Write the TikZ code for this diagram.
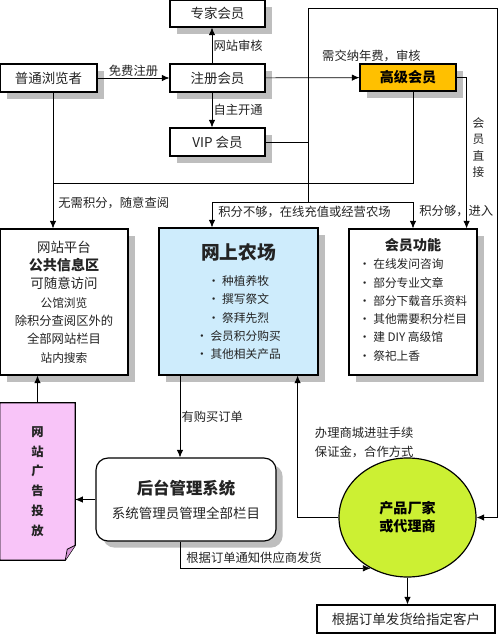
\documentclass[tikz,border=0pt]{standalone}
\usepackage{fontspec}
\setmainfont{Noto Sans CJK SC}
\usepackage{tikz}
\usetikzlibrary{arrows.meta,positioning,shapes.geometric,calc,shadows,backgrounds}
\definecolor{webgold} {RGB}{255,192,  0}
\definecolor{webblue} {RGB}{206,236,252}
\definecolor{webpink} {RGB}{248,196,248}
\definecolor{webpinkd}{RGB}{215,150,215}
\definecolor{weblime} {RGB}{204,240, 51}
\definecolor{webshade}{RGB}{190,190,190}
\definecolor{webtext} {RGB}{ 35, 35, 35}
\newcommand\fsz[1]{\fontsize{#1}{15.6}\selectfont}
\tikzset{
  boxshadow/.style={drop shadow={shadow xshift=0.2cm,shadow yshift=-0.2cm,
    fill=webshade,opacity=1}},
  blk/.style={draw,line width=1pt,fill=white,inner sep=2pt,
    minimum width=2.85cm,minimum height=0.84cm,
    font=\fsz{11.5},text=webtext,align=center},
  sblk/.style={blk,boxshadow},
  blkgold/.style={sblk,fill=webgold,font=\fsz{12}\bfseries,text=black},
  blkblue/.style={sblk,fill=webblue},
  arr/.style={-{Latex[length=6.5pt,width=5.5pt]},line width=0.6pt},
  ln/.style={line width=0.6pt},
  lbl/.style={font=\fsz{10.5},text=webtext,inner sep=1pt},
}
\begin{document}
\begin{tikzpicture}[x=0.03cm,y=-0.03cm]
  \useasboundingbox (0,0) rectangle (500,634);
  % member boxes
  \node[sblk,minimum width=2.91cm](putong) at (48.5,78) {普通浏览者};
  \node[sblk](zhuce) at (217.5,78) {注册会员};
  \node[sblk,minimum height=0.81cm](zhuanjia) at (217.5,13.5) {专家会员};
  \node[sblk](vip) at (217.5,142) {VIP 会员};
  \node[blkgold,minimum width=2.88cm,minimum height=0.81cm](gaoji) at (408,77.5) {高级会员};
  % main areas
  \node[sblk,minimum width=3.84cm,minimum height=4.38cm,font=\fsz{10.5}](gonggong) at (64,302)
    {{\fsz{11.5}网站平台}\\{\fsz{12}\bfseries 公共信息区}\\{\fsz{11.5}可随意访问}\\
     {\fsz{10}公馆浏览}\\除积分查阅区外的\\全部网站栏目\\{\fsz{10}站内搜索}};
  \node[blkblue,minimum width=4.77cm,minimum height=4.41cm,font=\fsz{10}](nongchang) at (238.5,301.5)
    {{\fsz{16}\bfseries 网上农场}\\[7pt]• 种植养牧\\• 撰写祭文\\• 祭拜先烈\\• 会员积分购买\\• 其他相关产品};
  \node[sblk,minimum width=3.84cm,minimum height=4.38cm,font=\fsz{10}](huiyuan) at (413,302)
    {{\fsz{12}\bfseries 会员功能}\\
     \begin{tabular}[t]{@{}l@{}}• 在线发问咨询\\• 部分专业文章\\• 部分下载音乐资料\\
       • 其他需要积分栏目\\• 建 DIY 高级馆\\• 祭祀上香\end{tabular}};
  % lower part
  \node[minimum width=2.25cm,minimum height=4.71cm,align=center,text=webtext,
        font=\fontsize{10.5}{16.8}\selectfont\bfseries](guanggao) at (37.5,481.5)
    {网\\站\\广\\告\\投\\放};
  \begin{scope}[on background layer]
    \draw[line width=1pt,fill=webpink](guanggao.north west)--(guanggao.north east)
      --($(guanggao.south east)+(0,-15)$)--($(guanggao.south east)+(-10,0)$)
      --(guanggao.south west)--cycle;
    \draw[line width=0.6pt,fill=webpinkd]($(guanggao.south east)+(0,-15)$)
      --($(guanggao.south east)+(-8,-11)$)--($(guanggao.south east)+(-10,0)$);
  \end{scope}
  \node[sblk,rounded corners=0.36cm,minimum width=5.4cm,minimum height=2.49cm](houtai) at (186,499.5)
    {{\fsz{14}\bfseries 后台管理系统}\\[5pt]系统管理员管理全部栏目};
  \node[ellipse,draw,line width=1pt,fill=weblime,minimum width=4.11cm,minimum height=3.57cm,
        inner sep=0pt,align=center,font=\fsz{12}\bfseries](changjia) at (407.5,517.5)
    {产品厂家\\或代理商};
  \node[blk,minimum width=5.34cm](kehu) at (406,619) {根据订单发货给指定客户};

  % connectors
  \coordinate (topl) at (308,8);
  \coordinate (topr) at (497,8);
  \coordinate (pdrop) at (53,183);
  \coordinate (split) at (308,202);
  \coordinate (splitl) at (212,202);
  \coordinate (orderx) at (180,0);
  \draw[arr](putong)--(zhuce) node[lbl,midway,above](lfree){免费注册};
  \draw[arr](zhuce.north -| splitl)--(zhuanjia.south -| splitl)
    node[lbl,midway,right](laudit){网站审核};
  \draw[arr](zhuce.south -| splitl)--(vip.north -| splitl)
    node[lbl,midway,right](lopen){自主开通};
  \draw[arr](zhuce)--(gaoji);
  \node[lbl](lfee) at ($(gaoji.north west)+(12,-7)$) {需交纳年费，审核};
  \draw[ln](vip.east)--(vip.east -| topl);
  \draw[ln](topl)--(split);
  \draw[arr](topl)--(topr)|-(changjia.east);
  \draw[ln](gaoji.south -| huiyuan.north)|-(pdrop);
  \draw[arr](putong.south -| pdrop)--(pdrop |- gonggong.north);
  \node[lbl,anchor=west](lfreeread) at ($(pdrop)+(4,20)$) {无需积分，随意查阅};
  \draw[arr](splitl)--(splitl |- nongchang.north);
  \draw[arr](splitl)-|(huiyuan.north);
  \node[lbl,anchor=west](llack) at ($(splitl)+(5,10)$) {积分不够，在线充值或经营农场};
  \draw[arr](gaoji.east)-|($(huiyuan.north east)+(-11,0)$);
  \node[lbl,align=center,font=\fontsize{10}{14}\selectfont](ldirect) at ($(gaoji.east)+(22,70)$)
    {会\\员\\直\\接};
  \node[lbl,anchor=west](lenough) at ($(huiyuan.north)+(5,-17)$) {积分够，进入};
  \draw[arr](nongchang.south -| orderx)--(houtai.north -| orderx)
    node[lbl,midway,right](lorder){有购买订单};
  \draw[arr](houtai.west)--(houtai.west -| guanggao.east);
  \draw[arr](guanggao.north)--(guanggao.north |- gonggong.south);
  \draw[arr](houtai.south -| orderx)|-(changjia.234);
  \node[lbl,anchor=west](lnotify) at ($(houtai.south -| orderx)+(5,16)$) {根据订单通知供应商发货};
  \draw[arr](changjia.west)-|($(nongchang.south east)+(-21,0)$);
  \node[lbl,anchor=west,align=left,font=\fontsize{10.5}{16}\selectfont](lcontract)
    at ($(nongchang.south east)+(-5,66.5)$) {办理商城进驻手续\\保证金，合作方式};
  \draw[arr](changjia.south)--(changjia.south |- kehu.north);
\end{tikzpicture}
\end{document}
